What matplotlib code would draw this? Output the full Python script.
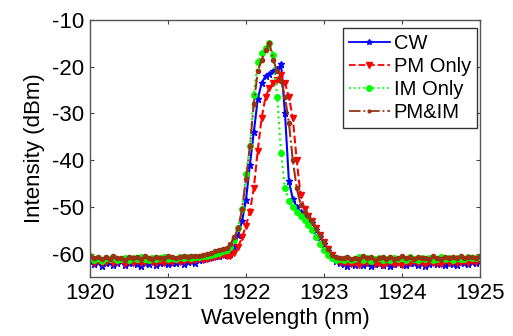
import numpy as np
import matplotlib
matplotlib.use("Agg")
import matplotlib.pyplot as plt

plt.rcParams['font.family'] = ['Liberation Sans', 'DejaVu Sans']
plt.rcParams['axes.unicode_minus'] = False

# wavelength grid (nm), 0.05 nm sampling
wavelength = np.round(np.arange(1920.0, 1925.0001, 0.05), 2)

cw_left = [-61.5,-62.3,-61.8,-62.6,-62.0,-61.7,-62.4,-62.1,-61.6,-62.5,-62.0,-61.8,-62.3,-62.7,-61.9,
           -62.2,-61.6,-62.4,-62.0,-61.8,-62.3,-61.9,-62.1,-61.5,-62.2,-61.8,-61.6,-61.9,-61.4,-61.2]
cw_peak = [-61.0,-60.8,-60.6,-60.4,-60.0,-60.2,-60.0,-58.5,-56.0,-53.0,-48.5,-41.0,-34.0,-27.0,-23.5,
           -22.0,-21.5,-21.0,-20.5,-19.5,-30.0,-44.5,-48.3,-50.0,-51.0,-51.8,-52.5,-53.5,-55.0,-56.5,
           -58.0,-59.5,-60.8,-61.5,-62.0]
cw_right = [-62.3,-62.6,-62.0,-62.4,-61.8,-62.5,-62.1,-62.7,-62.2,-61.9,-62.4,-62.0,-62.6,-62.3,-61.8,
            -62.2,-62.5,-61.9,-62.1,-62.4,-62.0,-62.6,-62.2,-61.8,-62.3,-62.0,-62.5,-61.9,-62.2,-62.4,
            -61.8,-62.1,-62.3,-61.7,-62.0,-61.6]

pm_left = [-61.2,-61.9,-61.5,-62.1,-61.7,-61.4,-62.0,-61.8,-61.3,-62.2,-61.6,-61.9,-61.5,-62.0,-61.7,
           -61.4,-61.8,-62.1,-61.6,-61.9,-61.5,-61.8,-61.4,-61.7,-61.5,-61.3,-61.6,-61.4,-61.2,-61.3]
pm_peak = [-61.2,-61.0,-60.8,-60.6,-60.3,-60.5,-60.4,-59.8,-58.5,-56.5,-54.0,-51.0,-46.0,-38.0,-31.0,
           -26.5,-24.5,-23.5,-22.8,-21.8,-23.5,-26.5,-31.0,-40.0,-47.5,-50.5,-52.0,-53.0,-54.5,-56.0,
           -57.5,-59.0,-60.3,-61.2,-61.8]
pm_right = [-62.0,-61.7,-62.2,-61.9,-62.4,-61.8,-62.1,-61.6,-62.3,-61.9,-62.5,-62.0,-61.7,-62.2,-61.9,
            -62.4,-61.8,-62.1,-61.6,-62.0,-61.8,-62.3,-61.7,-62.0,-61.9,-62.2,-61.6,-61.9,-61.7,-62.1,
            -61.8,-61.5,-61.9,-61.6,-61.7,-61.4]

im_left = [-60.6,-61.3,-60.9,-61.5,-61.0,-61.2,-60.8,-61.4,-61.1,-60.9,-61.3,-61.0,-61.2,-60.8,-61.1,
           -61.4,-60.9,-61.2,-61.0,-60.8,-61.1,-60.9,-61.2,-60.7,-61.0,-60.8,-60.9,-60.7,-60.8,-60.6]
im_peak = [-60.5,-60.3,-60.0,-59.8,-59.5,-59.3,-58.5,-57.0,-54.5,-50.5,-43.0,-37.0,-26.0,-19.0,-17.0,
           -16.0,-15.0,-17.5,-26.5,-38.5,-46.0,-48.8,-50.0,-51.0,-52.0,-52.8,-53.8,-55.0,-56.5,-58.0,
           -59.3,-60.3,-61.0,-61.3,-61.2]
im_right = [-61.3,-61.0,-61.4,-61.1,-60.8,-61.3,-61.0,-61.5,-61.2,-60.9,-61.3,-61.1,-61.4,-60.9,-61.2,
            -61.0,-61.3,-60.8,-61.1,-61.4,-61.0,-61.2,-60.9,-61.3,-61.1,-60.8,-61.2,-61.0,-61.3,-60.9,
            -61.1,-61.2,-60.8,-61.0,-60.9,-60.7]

pmim_left = [-60.4,-61.0,-60.7,-61.2,-60.8,-61.1,-60.6,-61.0,-60.9,-61.3,-60.7,-61.0,-60.8,-61.2,-60.6,
             -60.9,-61.1,-60.7,-60.9,-61.0,-60.6,-60.8,-61.0,-60.7,-60.5,-60.8,-60.6,-60.4,-60.5,-60.3]
pmim_peak = [-60.0,-59.8,-59.5,-59.2,-59.0,-58.8,-58.0,-56.5,-54.5,-50.5,-44.0,-37.0,-28.0,-21.0,-18.5,
             -16.5,-15.0,-18.5,-21.0,-23.0,-26.5,-32.0,-40.0,-46.0,-49.5,-51.0,-52.0,-53.0,-54.5,-56.0,
             -57.5,-59.0,-60.2,-60.8,-61.0]
pmim_right = [-61.0,-60.7,-61.2,-60.9,-61.1,-60.6,-61.0,-60.8,-61.3,-60.9,-60.7,-61.1,-60.8,-61.2,-60.9,
              -60.6,-61.0,-60.8,-61.1,-60.7,-61.0,-60.9,-61.2,-60.6,-60.9,-61.1,-60.7,-61.0,-60.8,-60.9,
              -60.6,-61.0,-60.8,-60.7,-60.9,-60.6]

labels = ['CW', 'PM Only', 'IM Only', 'PM&IM']
series = [cw_left + cw_peak + cw_right,
          pm_left + pm_peak + pm_right,
          im_left + im_peak + im_right,
          pmim_left + pmim_peak + pmim_right]
colors = ['#0000FF', '#FF0000', '#00FF00', '#993311']
styles = ['-', '--', ':', '-.']
markers = ['*', 'v', 'o', '.']
msizes = [5, 4.5, 4, 6]

fig = plt.figure(figsize=(5.13, 3.36), dpi=100)
ax = fig.add_axes([90/513, 59/336, 390/513, 257/336])

for y, lab, c, ls, m, ms in zip(series, labels, colors, styles, markers, msizes):
    ax.plot(wavelength, y, linestyle=ls, color=c, marker=m, markersize=ms,
            linewidth=1.5, label=lab)

ax.set_xlim(1920, 1925)
ax.set_ylim(-65, -10)
ax.set_xticks([1920, 1921, 1922, 1923, 1924, 1925])
ax.set_yticks([-60, -50, -40, -30, -20, -10])
ax.tick_params(direction='in', top=True, right=True, labelsize=16, length=3,
               color='#444444', pad=4)
for s in ax.spines.values():
    s.set_color('#555555')
    s.set_linewidth(1.0)
ax.set_xlabel('Wavelength (nm)', fontsize=16, labelpad=3)
ax.set_ylabel('Intensity (dBm)', fontsize=16, labelpad=5)

leg = ax.legend(loc='upper right', bbox_to_anchor=(0.992, 0.969), borderaxespad=0,
                fontsize=14.5, handlelength=2.0, handletextpad=0.2, labelspacing=0.2,
                borderpad=0.3, fancybox=False, framealpha=1)
leg.get_frame().set_edgecolor('#333333')
leg.get_frame().set_linewidth(1.0)
for h in leg.get_lines():
    h.set_markersize(4)
    h.set_linewidth(1.3)

fig.savefig('out.png', dpi=100)
